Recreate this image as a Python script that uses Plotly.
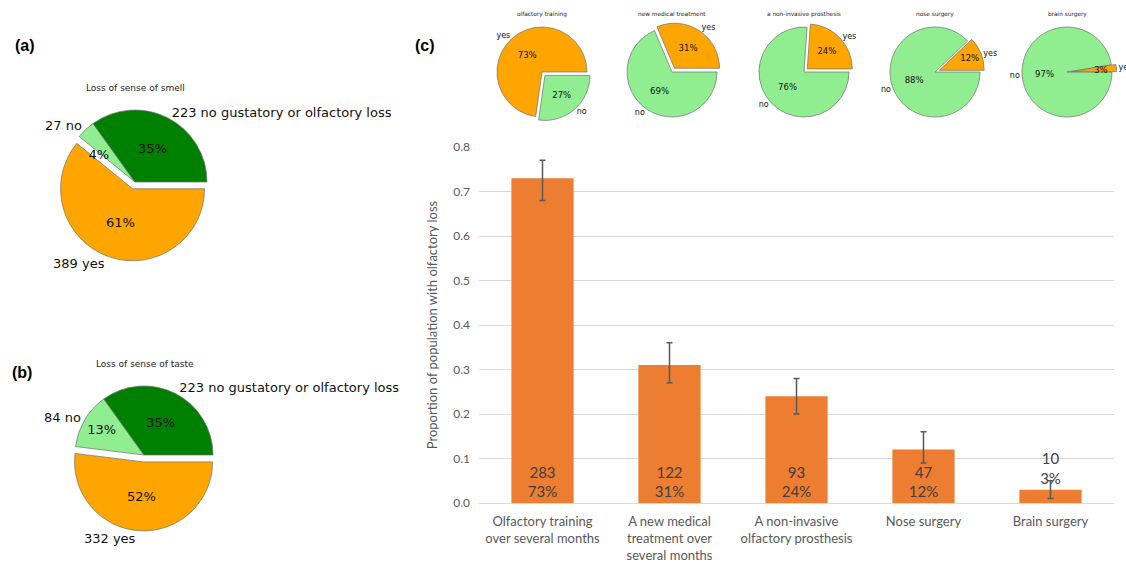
import plotly.graph_objects as go

W, H = 1126, 562

# ---------------- data ----------------
smell_counts = [223, 27, 389]
smell_names = ["no gustatory or olfactory loss", "no", "yes"]
taste_counts = [223, 84, 332]
taste_names = ["no gustatory or olfactory loss", "no", "yes"]

options_short = ["olfactory training", "new medical treatment", "a non-invasive prosthesis",
                 "nose surgery", "brain surgery"]
options_long = ["Olfactory training<br>over several months",
                "A new medical<br>treatment over<br>several months",
                "A non-invasive<br>olfactory prosthesis",
                "Nose surgery", "Brain surgery"]
yes_counts = [283, 122, 93, 47, 10]
no_counts = [106, 267, 296, 342, 379]
proportion = [0.73, 0.31, 0.24, 0.12, 0.03]
pct_labels = [73, 31, 24, 12, 3]
ci_low = [0.68, 0.27, 0.20, 0.09, 0.01]
ci_high = [0.77, 0.36, 0.28, 0.16, 0.05]

# ---------------- styling / layout ----------------
C_GREEN, C_LGREEN, C_ORANGE = "#008000", "#90EE90", "#FFA500"
BAR_COLOR = "#ED7D31"
EDGE = dict(color="#6e6e6e", width=0.7)
PIE_FONT = "DejaVu Sans"
BAR_FONT = "Lato"
SMALL_SLICE = 0.05      # slices below this share get their % text placed like matplotlib
PCT_RATIO = 0.45        # radius of the invisible helper pie that carries those % texts


def px_x(x):
    return x / W


def px_y(y):
    return 1 - y / H


def dom(cx, cy, half):
    return dict(x=[px_x(cx - half), px_x(cx + half)], y=[px_y(cy + half), px_y(cy - half)])


fig = go.Figure()
CLEAR = "rgba(0,0,0,0)"


def add_pie(values, labels, colors, pulls, cx, cy, r, pct_size, lab_size):
    # matplotlib lays slices out counter-clockwise from 3 o'clock:
    # equivalent to clockwise from 3 o'clock with the order reversed
    values, labels, colors, pulls = values[::-1], labels[::-1], colors[::-1], pulls[::-1]
    total = sum(values)
    small = [v / total < SMALL_SLICE for v in values]
    pull_px = max(pulls)
    common = dict(values=values, sort=False, direction="clockwise", rotation=90,
                  showlegend=False, hoverinfo="skip")
    d = dom(cx, cy, r * (1 + pull_px))
    fig.add_trace(go.Pie(marker=dict(colors=colors, line=EDGE), pull=pulls, domain=d,
                         texttemplate=["" if s else "%{percent:.0%}" for s in small],
                         textposition="inside", insidetextorientation="horizontal",
                         textfont=dict(family=PIE_FONT, size=pct_size, color="#111"),
                         **common))
    fig.add_trace(go.Pie(marker=dict(colors=[CLEAR] * len(values), line=dict(width=0)),
                         pull=pulls, domain=d,
                         text=labels, textinfo="text", textposition="outside",
                         textfont=dict(family=PIE_FONT, size=lab_size, color="#111"),
                         **common))
    if any(small):
        r_in = r * PCT_RATIO
        pulls_in = [p * r / r_in for p in pulls]
        d_in = dom(cx, cy, r_in * (1 + max(pulls_in)))
        fig.add_trace(go.Pie(marker=dict(colors=[CLEAR] * len(values), line=dict(width=0)),
                             pull=pulls_in, domain=d_in,
                             texttemplate=["%{percent:.0%}" if s else "" for s in small],
                             textposition="outside",
                             textfont=dict(family=PIE_FONT, size=pct_size, color="#111"),
                             **common))


# (a) smell
add_pie(smell_counts, [f"{c} {n}" for c, n in zip(smell_counts, smell_names)],
        [C_GREEN, C_LGREEN, C_ORANGE], [0, 0, 0.1], 135, 182, 72, 13, 13)
# (b) taste
add_pie(taste_counts, [f"{c} {n}" for c, n in zip(taste_counts, taste_names)],
        [C_GREEN, C_LGREEN, C_ORANGE], [0, 0, 0.1], 144, 455, 69, 13, 13)

# small pies
small_cx = [542, 672, 804, 935, 1067]
for i in range(len(yes_counts)):
    vals = [yes_counts[i], no_counts[i]]
    pulls = [0.1, 0] if yes_counts[i] < no_counts[i] else [0, 0.1]
    add_pie(vals, ["yes", "no"], [C_ORANGE, C_LGREEN], pulls, small_cx[i], 72, 45, 8.5, 8)

# bar chart
fig.add_trace(go.Bar(
    x=options_long, y=proportion,
    marker=dict(color=BAR_COLOR, line=dict(width=0)),
    text=[f"{c}<br>{p}%" for c, p in zip(yes_counts, pct_labels)],
    textposition="auto", insidetextanchor="start",
    insidetextfont=dict(family=BAR_FONT, size=15, color="#404040"),
    outsidetextfont=dict(family=BAR_FONT, size=15, color="#404040"),
    error_y=dict(type="data", symmetric=False,
                 array=[h - v for h, v in zip(ci_high, proportion)],
                 arrayminus=[v - l for v, l in zip(proportion, ci_low)],
                 color="#595959", thickness=1.5, width=3),
    cliponaxis=False, showlegend=False, hoverinfo="skip",
))

annotations = []
annotations.append(dict(text="Loss of sense of smell", x=px_x(135), y=px_y(88)))
annotations.append(dict(text="Loss of sense of taste", x=px_x(145), y=px_y(364)))
for a in annotations:
    a.update(xref="paper", yref="paper", showarrow=False, xanchor="center", yanchor="middle",
             font=dict(family=PIE_FONT, size=9, color="#222"))
for i, t in enumerate(options_short):
    annotations.append(dict(text=t, x=px_x(small_cx[i]), y=px_y(14), xref="paper", yref="paper",
                            showarrow=False, xanchor="center", yanchor="middle",
                            font=dict(family=PIE_FONT, size=5.8, color="#222")))
for t, x, y in [("(a)", 25, 46), ("(b)", 22, 372), ("(c)", 425, 46)]:
    annotations.append(dict(text=f"<b>{t}</b>", x=px_x(x), y=px_y(y), xref="paper", yref="paper",
                            showarrow=False, xanchor="center", yanchor="middle",
                            font=dict(family="Liberation Sans", size=16, color="#000")))

fig.update_layout(
    width=W, height=H, margin=dict(l=0, r=0, t=0, b=0, autoexpand=False),
    paper_bgcolor="white", plot_bgcolor="white",
    bargap=0.51, annotations=annotations,
    xaxis=dict(domain=[px_x(479), px_x(1114)], showline=False, ticks="", automargin=False,
               tickfont=dict(family=BAR_FONT, size=13, color="#595959"),
               ticklabelstandoff=9),
    yaxis=dict(domain=[px_y(503), px_y(147)], range=[0, 0.8], dtick=0.1, tickformat=".1f",
               showgrid=True, gridcolor="#D9D9D9", gridwidth=1, automargin=False,
               zeroline=True, zerolinecolor="#D9D9D9", zerolinewidth=1,
               showline=False, ticks="",
               tickfont=dict(family=BAR_FONT, size=12, color="#595959"),
               ticklabelstandoff=8,
               title=dict(text="Proportion of population with olfactory loss",
                          font=dict(family=BAR_FONT, size=13, color="#595959"), standoff=12)),
)

fig.write_html("out.html", config={"displayModeBar": False},
               post_script="document.body.style.margin='0';document.body.style.padding='0';")
